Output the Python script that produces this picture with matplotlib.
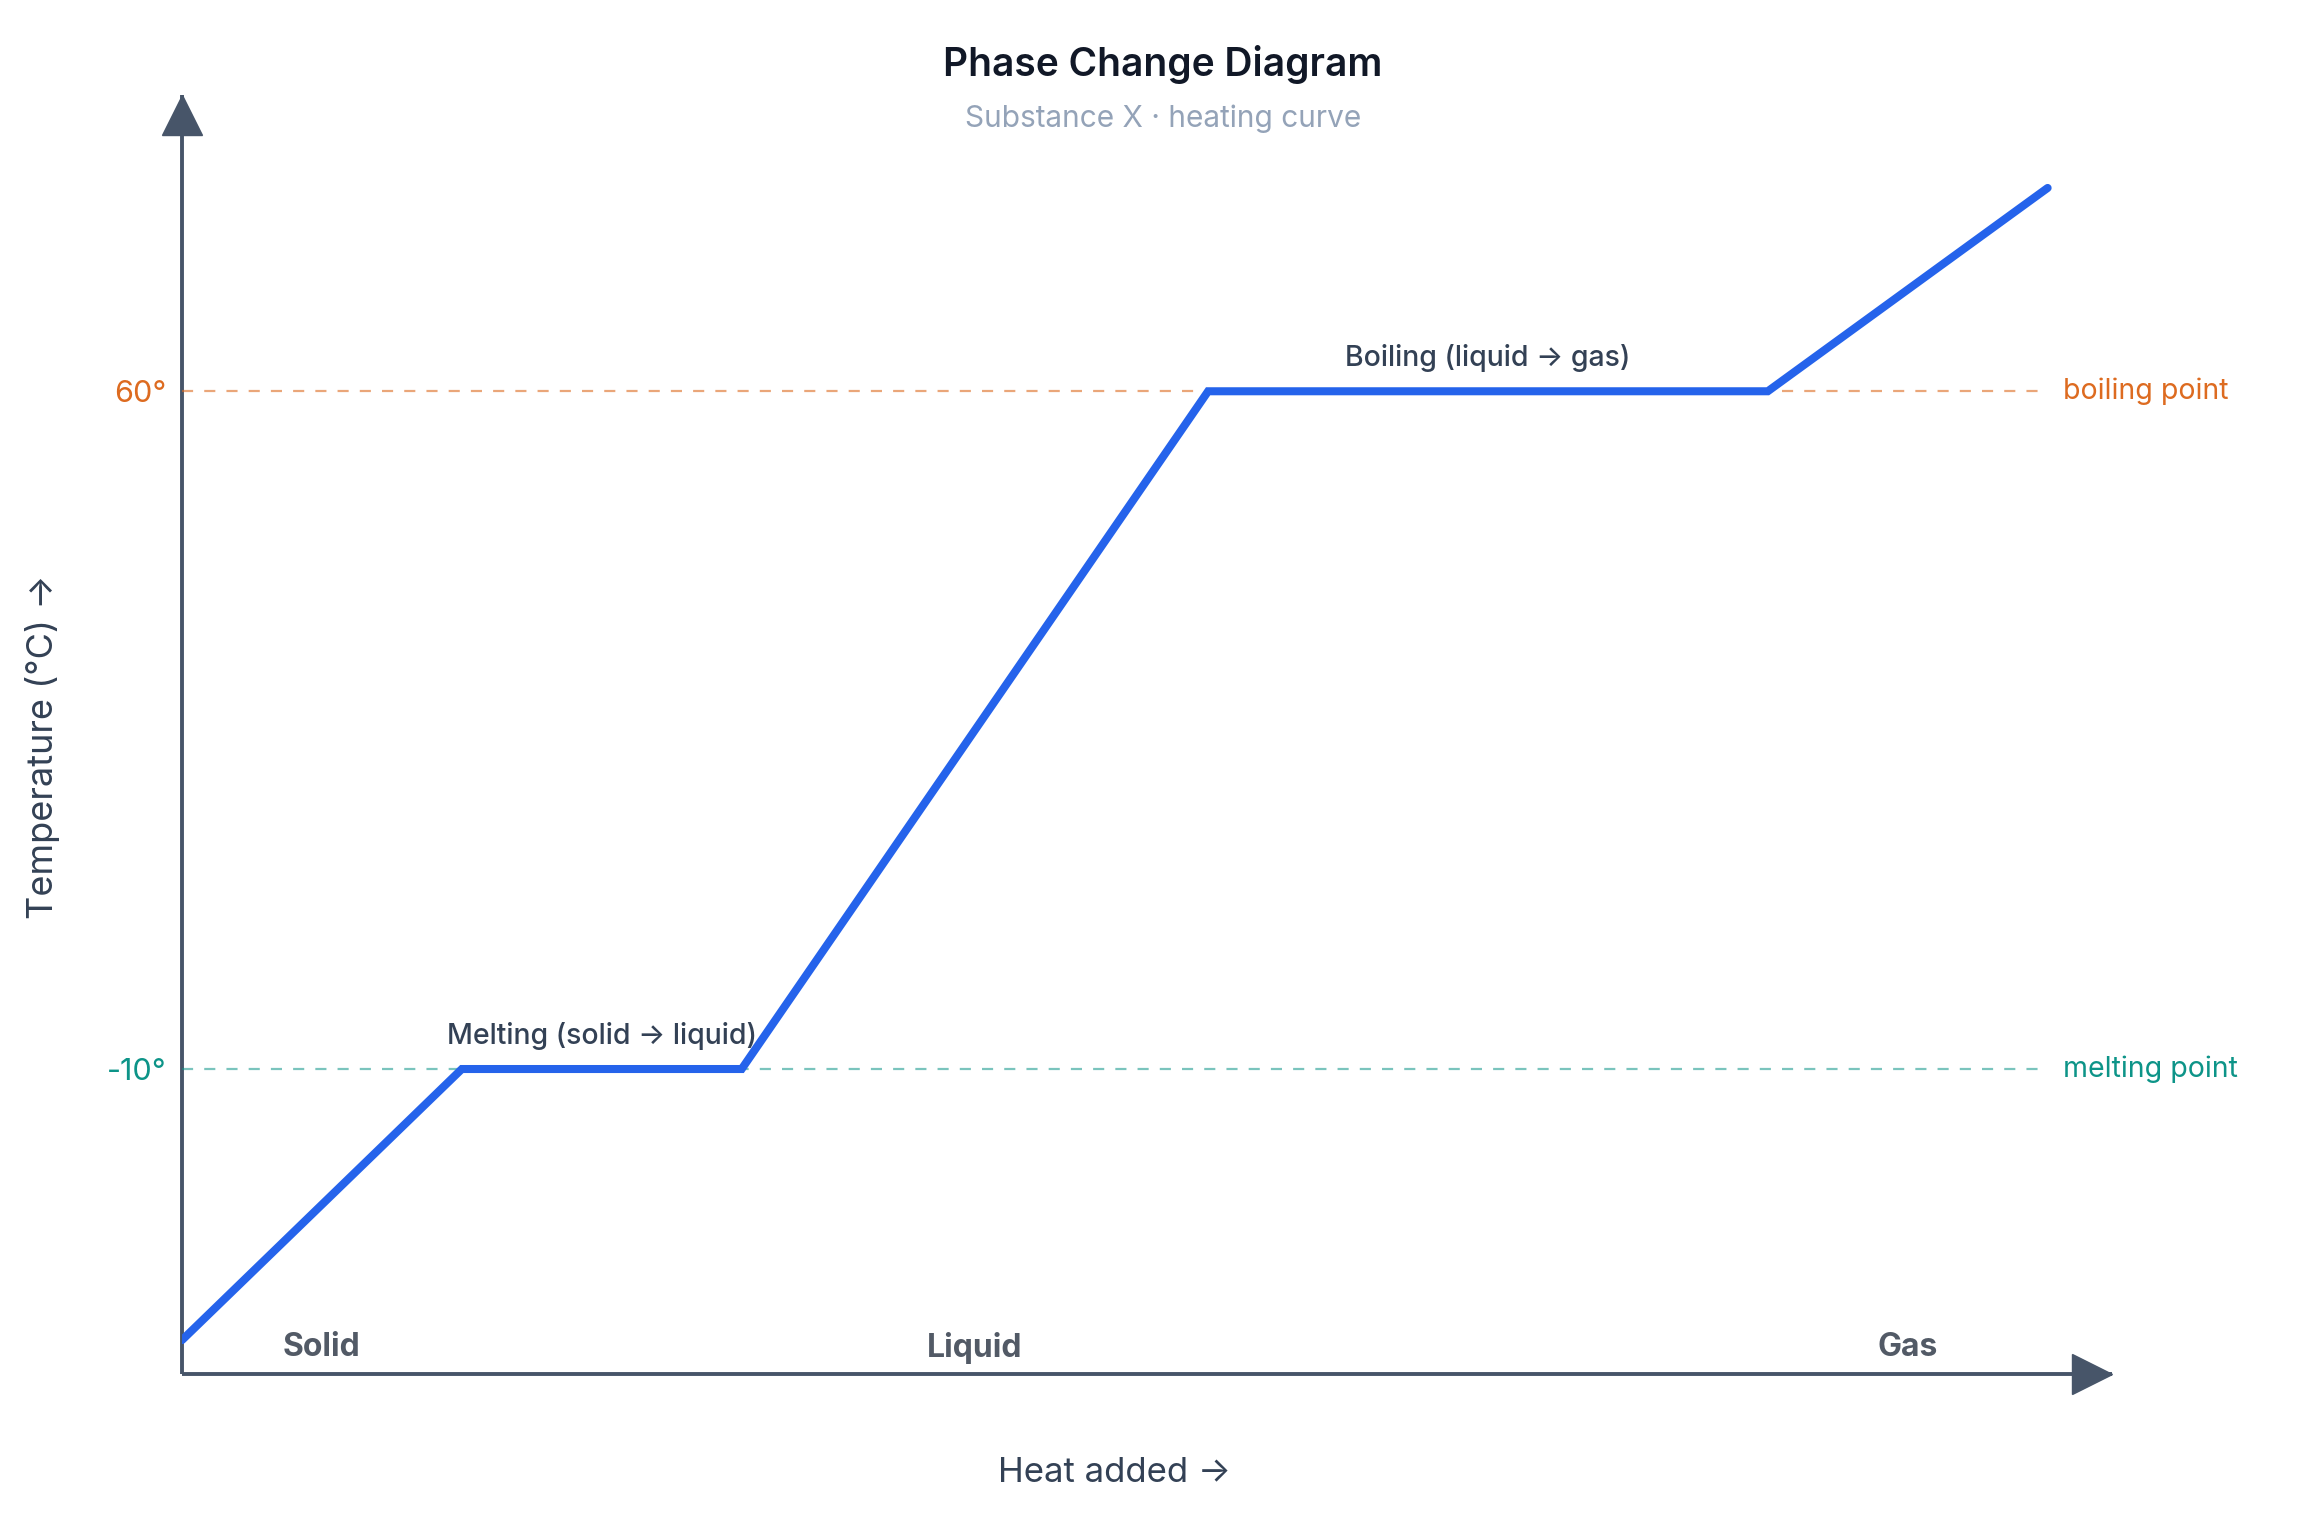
import matplotlib.pyplot as plt
import matplotlib.transforms as mtransforms

plt.rcParams['font.family'] = ['Inter', 'DejaVu Sans']

# heating curve
heat = [0, 30, 60, 110, 170, 200]
temp = [-38, -10, -10, 60, 60, 81]

melting_point = -10
boiling_point = 60

phases = ['Solid', 'Liquid', 'Gas']
phase_x = [15, 85, 185]

W, H = 2322, 1528
fig = plt.figure(figsize=(W / 100, H / 100), dpi=100)

def fx(px):
    return px / W

def fy(py):
    return 1 - py / H

# axes box: origin at (182, 1374) px, arrow tips at x=2112 and y=95
ax = fig.add_axes([fx(182), fy(1374), fx(2112) - fx(182), fy(95) - fy(1374)])
ax.set_xlim(0, 206.9)
ax.set_ylim(-41.5, 90.6)
for s in ax.spines.values():
    s.set_visible(False)
ax.set_xticks([])

axis_col = '#475569'
ax.plot([0, 0], [0, 1], transform=ax.transAxes, color=axis_col, lw=2.8, clip_on=False, solid_capstyle='butt')
ax.plot([0, 1], [0, 0], transform=ax.transAxes, color=axis_col, lw=2.8, clip_on=False, solid_capstyle='butt')
up = mtransforms.offset_copy(ax.transAxes, fig=fig, x=0, y=-20, units='dots')
right = mtransforms.offset_copy(ax.transAxes, fig=fig, x=-20, y=0, units='dots')
ax.plot([0], [1], marker='^', markersize=29, color=axis_col, transform=up, clip_on=False)
ax.plot([1], [0], marker='>', markersize=29, color=axis_col, transform=right, clip_on=False)

# reference lines
orange = '#dd6b20'
teal = '#0d9488'
ax.plot([0, heat[-1]], [boiling_point, boiling_point], color=orange, alpha=0.6, lw=1.6, dashes=(5, 5))
ax.plot([0, heat[-1]], [melting_point, melting_point], color=teal, alpha=0.55, lw=1.6, dashes=(5, 5))
ax.text(heat[-1] + 1.6, boiling_point, 'boiling point', color=orange, fontsize=20.5, va='center', ha='left')
ax.text(heat[-1] + 1.6, melting_point, 'melting point', color=teal, fontsize=20.5, va='center', ha='left')

ax.set_yticks([melting_point, boiling_point])
ax.set_yticklabels(['-10°', '60°'], fontsize=22)
ax.tick_params(axis='y', length=0, pad=11)
ax.get_yticklabels()[0].set_color(teal)
ax.get_yticklabels()[1].set_color(orange)

# curve
ax.plot(heat, temp, color='#2563eb', lw=5.8, solid_capstyle='round', solid_joinstyle='miter', zorder=5)

# plateau labels
ax.text((heat[1] + heat[2]) / 2, melting_point + 2.0, 'Melting (solid → liquid)', ha='center', va='bottom',
        fontsize=20.5, color='#334155', fontweight='medium', zorder=6)
ax.text((heat[3] + heat[4]) / 2, boiling_point + 2.0, 'Boiling (liquid → gas)', ha='center', va='bottom',
        fontsize=20.5, color='#334155', fontweight='medium', zorder=6)

for name, x in zip(phases, phase_x):
    ax.text(x, -38.8, name, ha='center', va='center', fontsize=23, fontweight='bold', color='#525a66')

# titles and axis labels
fig.text(fx(1163), fy(64), 'Phase Change Diagram', ha='center', va='center', fontsize=28,
         fontweight='semibold', color='#111827')
fig.text(fx(1163), fy(119), 'Substance X · heating curve', ha='center', va='center', fontsize=21.5,
         color='#94a3b8')
fig.text(fx(1114), fy(1473), 'Heat added →', ha='center', va='center', fontsize=25, color='#334155')
fig.text(fx(43), fy(747), 'Temperature (°C) →', ha='center', va='center', rotation=90, fontsize=26,
         color='#334155')

fig.savefig('out.png', dpi=100, facecolor='white')
